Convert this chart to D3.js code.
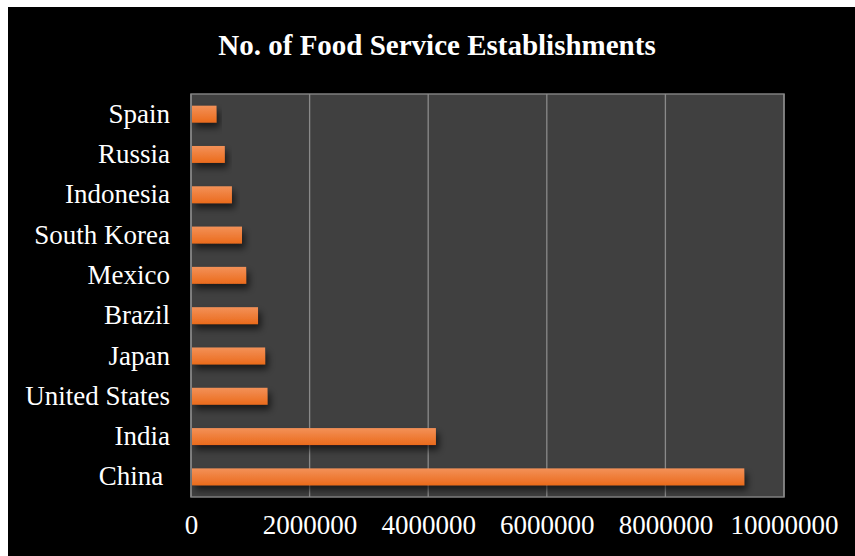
<!DOCTYPE html>
<html>
<head>
<meta charset="utf-8">
<script src="https://cdn.jsdelivr.net/npm/d3@7"></script>
<style>
  body { margin: 0; background: #fff; }
  text { font-family: "Liberation Serif", "Times New Roman", serif; fill: #fff; }
</style>
</head>
<body>
<script>
var countries = ["China ", "India", "United States", "Japan", "Brazil",
                 "Mexico", "South Korea", "Indonesia", "Russia", "Spain"];
var establishments = [9330000, 4130000, 1290000, 1250000, 1130000,
                      930000, 860000, 690000, 570000, 430000];
var tickValues = [0, 2000000, 4000000, 6000000, 8000000, 10000000];

var width = 855, height = 556;
var plotLeft = 191, plotRight = 784, plotTop = 94, plotBottom = 497;

var svg = d3.select("body")
    .append("svg")
    .attr("width", width)
    .attr("height", height);

var defs = svg.append("defs");
var grad = defs.append("linearGradient")
    .attr("id", "barGrad")
    .attr("x1", 0).attr("y1", 0).attr("x2", 0).attr("y2", 1);
grad.append("stop").attr("offset", "0%").attr("stop-color", "#f39158");
grad.append("stop").attr("offset", "100%").attr("stop-color", "#eb6b1c");

var shadow = defs.append("filter")
    .attr("id", "shadow")
    .attr("x", "-10%").attr("y", "-50%")
    .attr("width", "130%").attr("height", "250%");
shadow.append("feDropShadow")
    .attr("dx", 3).attr("dy", 5)
    .attr("stdDeviation", 3.5)
    .attr("flood-color", "#000")
    .attr("flood-opacity", 0.6);

// black background with white margin at top/left
svg.append("rect")
    .attr("x", 8).attr("y", 7)
    .attr("width", width - 8).attr("height", height - 7)
    .attr("fill", "#000");

let xScale = d3.scaleLinear()
    .domain([0, 10000000])
    .range([plotLeft, plotRight]);

let yScale = d3.scaleBand()
    .domain(countries.slice().reverse())
    .range([plotTop, plotBottom])
    .paddingInner(0.58)
    .paddingOuter(0.29);

svg.append("rect")
    .attr("x", plotLeft).attr("y", plotTop)
    .attr("width", plotRight - plotLeft).attr("height", plotBottom - plotTop)
    .attr("fill", "#404040")
    .attr("stroke", "#7f7f7f")
    .attr("stroke-width", 1.5);

svg.selectAll("line.grid")
    .data(tickValues)
    .enter()
    .append("line")
    .attr("class", "grid")
    .attr("x1", d => xScale(d))
    .attr("x2", d => xScale(d))
    .attr("y1", plotTop)
    .attr("y2", plotBottom)
    .attr("stroke", "#8a8a8a")
    .attr("stroke-width", 1.3);

svg.selectAll("rect.bar")
    .data(countries)
    .enter()
    .append("rect")
    .attr("class", "bar")
    .attr("x", xScale(0) + 1)
    .attr("y", d => yScale(d))
    .attr("height", yScale.bandwidth())
    .attr("width", (d, i) => xScale(establishments[i]) - xScale(0) - 1)
    .attr("fill", "url(#barGrad)")
    .attr("filter", "url(#shadow)");

// category axis
let yAxis = d3.axisLeft(yScale).tickSize(0).tickPadding(21);
let gy = svg.append("g")
    .attr("transform", "translate(" + plotLeft + ",0)")
    .call(yAxis);
gy.select(".domain").remove();
gy.selectAll("text")
    .attr("font-size", 27)
    .attr("fill", "#fff")
    .style("white-space", "pre")
    .style("font-family", "'Liberation Serif', serif");

// value axis
let xAxis = d3.axisBottom(xScale)
    .tickValues(tickValues)
    .tickSize(0)
    .tickPadding(18)
    .tickFormat(d3.format("d"));
let gx = svg.append("g")
    .attr("transform", "translate(0," + plotBottom + ")")
    .call(xAxis);
gx.select(".domain").remove();
gx.selectAll("text")
    .attr("font-size", 27)
    .attr("fill", "#fff")
    .style("font-family", "'Liberation Serif', serif");

svg.append("text")
    .attr("x", 437)
    .attr("y", 55)
    .attr("text-anchor", "middle")
    .attr("font-size", 29)
    .attr("font-weight", "bold")
    .text("No. of Food Service Establishments");
</script>
</body>
</html>
